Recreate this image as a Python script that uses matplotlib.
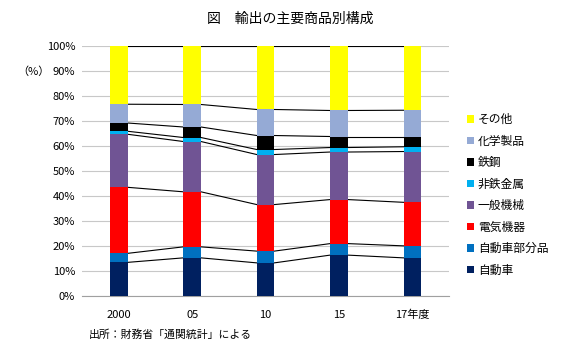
import matplotlib.pyplot as plt
import numpy as np

plt.rcParams['font.family'] = ['Noto Sans CJK JP', 'DejaVu Sans']

years = ['2000', '05', '10', '15', '17年度']
series_names = ['自動車', '自動車部分品', '電気機器', '一般機械', '非鉄金属', '鉄鋼', '化学製品', 'その他']
auto = [13.5, 15.3, 13.3, 16.4, 15.3]
parts = [3.6, 4.4, 4.7, 4.6, 4.8]
elec = [26.4, 22.0, 18.6, 17.6, 17.4]
machinery = [21.2, 20.1, 20.0, 19.0, 20.3]
nonferrous = [1.2, 1.6, 2.0, 1.8, 1.9]
steel = [3.3, 4.2, 5.6, 4.4, 4.1]
chemical = [7.5, 9.0, 10.4, 10.4, 10.5]
other = [23.3, 23.4, 25.4, 25.8, 25.7]
colors = ['#002060', '#0070C0', '#FF0000', '#705494', '#00B0F0', '#000000', '#95AAD5', '#FFFF00']

data = [auto, parts, elec, machinery, nonferrous, steel, chemical, other]

fig = plt.figure(figsize=(5.62, 3.48), dpi=100)
ax = fig.add_axes([0.146, 0.149, 0.653, 0.719])

x = np.arange(len(years))
w = 0.24
bottom = np.zeros(len(years))
handles = []
for vals, name, c in zip(data, series_names, colors):
    b = ax.bar(x, vals, w, bottom=bottom, color=c, label=name, zorder=3)
    handles.append(b)
    bottom = bottom + np.array(vals)
    # series lines connecting bars
    for i in range(len(years) - 1):
        ax.plot([x[i] + w / 2, x[i + 1] - w / 2], [bottom[i], bottom[i + 1]],
                color='black', lw=0.8, zorder=2)

ax.set_xlim(-0.5, len(years) - 0.5)
ax.set_ylim(0, 100)
ax.set_yticks(np.arange(0, 101, 10))
ax.set_yticklabels([f'{v}%' for v in range(0, 101, 10)], fontsize=8)
ax.set_xticks(x)
ax.set_xticklabels(years, fontsize=8)
ax.tick_params(length=0, pad=5)
ax.tick_params(axis='x', pad=10)
ax.yaxis.grid(True, color='#C8C8C8', lw=0.8, zorder=0)
for s in ['top', 'right', 'left']:
    ax.spines[s].set_visible(False)
ax.spines['bottom'].set_color('#A0A0A0')

fig.text(0.517, 0.945, '図　輸出の主要商品別構成', ha='center', va='center', fontsize=10)
fig.text(0.03, 0.795, '（%）', ha='left', va='center', fontsize=8)
fig.text(0.158, 0.04, '出所：財務省「通関統計」による', ha='left', va='center', fontsize=7.8)

ax.legend(handles[::-1], series_names[::-1], loc='center left', bbox_to_anchor=(1.02, 0.405),
          frameon=False, fontsize=8.5, handlelength=0.6, handleheight=0.6,
          handletextpad=0.3, labelspacing=0.72)

plt.savefig('out.png', dpi=100)
